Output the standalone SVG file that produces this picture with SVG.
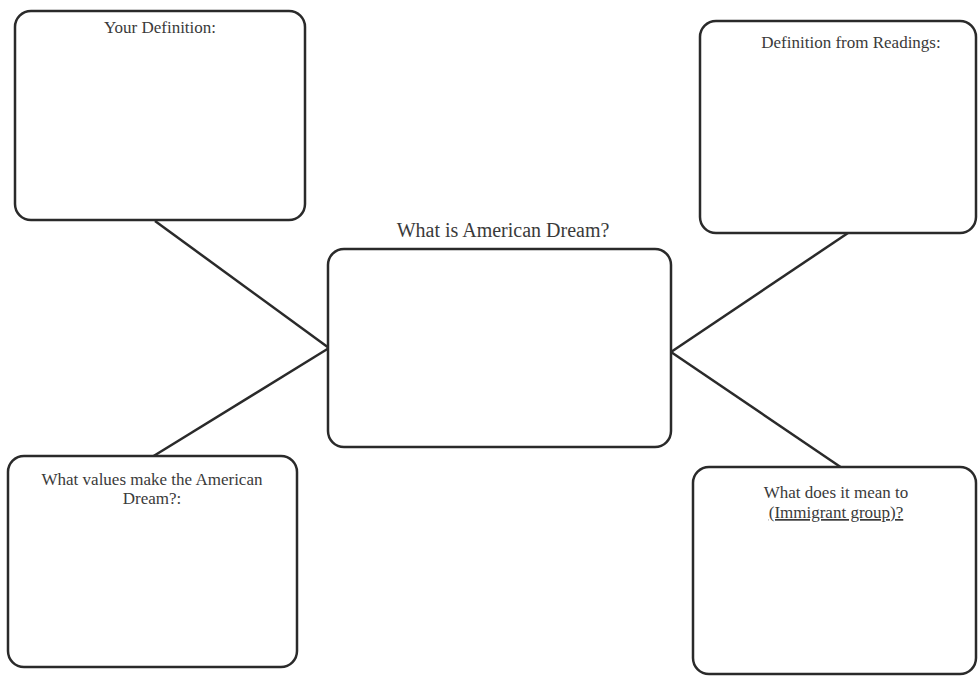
<svg xmlns="http://www.w3.org/2000/svg" width="978" height="676" viewBox="0 0 978 676">
<style>
.box{fill:#fff;stroke:#2a2a2a;stroke-width:2.5}
.ln{stroke:#2a2a2a;stroke-width:2.5;fill:none}
.t{font-family:"Liberation Serif","Times New Roman",serif;font-size:17px;fill:#3a3a3a;text-anchor:middle}
.title{font-size:20px}
</style>
<rect width="978" height="676" fill="#fff"/>
<g id="connectors">
<line class="ln" x1="155" y1="221" x2="329" y2="348"/>
<line class="ln" x1="152" y1="457" x2="329" y2="348"/>
<line class="ln" x1="671" y1="352" x2="848" y2="233"/>
<line class="ln" x1="671" y1="352" x2="842" y2="468"/>
</g>
<g id="your-definition">
<rect class="box" x="15" y="11" width="290" height="209" rx="16"/>
<text class="t" x="160" y="33">Your Definition:</text>
</g>
<g id="definition-readings">
<rect class="box" x="700" y="21" width="276" height="212" rx="16"/>
<text class="t" x="851" y="48">Definition from Readings:</text>
</g>
<g id="center">
<text class="t title" x="503" y="237">What is American Dream?</text>
<rect class="box" x="328" y="249" width="343" height="198" rx="16"/>
</g>
<g id="values">
<rect class="box" x="8" y="456" width="289" height="211" rx="16"/>
<text class="t" x="152" y="485">What values make the American</text>
<text class="t" x="152" y="504">Dream?:</text>
</g>
<g id="immigrant">
<rect class="box" x="693" y="467" width="283" height="207" rx="16"/>
<text class="t" x="836" y="498">What does it mean to</text>
<text class="t" x="836" y="518" text-decoration="underline">(Immigrant group)?</text>
</g>
</svg>
